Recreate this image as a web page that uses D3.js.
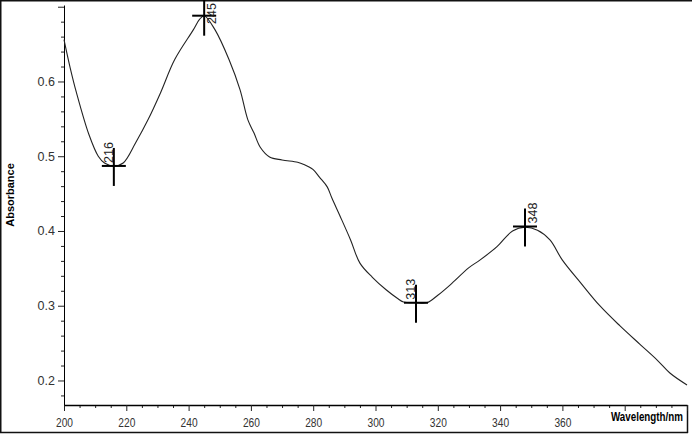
<!DOCTYPE html>
<html>
<head>
<meta charset="utf-8">
<script src="https://cdn.jsdelivr.net/npm/d3@7"></script>
<style>
  body { margin: 0; background: #fff; }
  svg { display: block; }
  .tick text { font-family: "Liberation Sans", Arial, sans-serif; font-size: 12.5px; fill: #333; }
</style>
</head>
<body>
<svg id="chart" width="692" height="436"></svg>
<script>
// spectrum: wavelength (nm) and absorbance
let wavelength = [200, 202, 204, 208, 211, 213, 216, 219, 223, 227, 231, 235.5, 241.5, 243.5, 245,
    248.5, 253, 256.5, 259, 261, 263, 266, 270, 275, 277, 280, 282, 284.5, 286, 288.5, 292, 295,
    299, 303.5, 307, 309, 313, 316.5, 320, 324, 330, 333.5, 339, 344, 348, 352, 356, 360, 366,
    372, 378.5, 385, 390.5, 394.5, 400];
let absorbance = [0.656, 0.618, 0.585, 0.529, 0.500, 0.491, 0.487, 0.491, 0.518, 0.549, 0.585, 0.629, 0.669, 0.683, 0.688,
    0.669, 0.629, 0.589, 0.549, 0.531, 0.512, 0.499, 0.495, 0.492, 0.489, 0.482, 0.472, 0.459, 0.444, 0.421, 0.388, 0.357,
    0.338, 0.321, 0.310, 0.305, 0.304, 0.304, 0.314, 0.328, 0.351, 0.361, 0.379, 0.400, 0.405, 0.401, 0.388, 0.361, 0.330,
    0.300, 0.273, 0.248, 0.227, 0.210, 0.194];

// picked peaks / valleys
let peakNm = [216, 245, 313, 348];
let peakAbs = [0.487, 0.688, 0.304, 0.406];
let peakKind = ['min', 'max', 'min', 'max'];

// axis ticks
let xMajor = [200, 220, 240, 260, 280, 300, 320, 340, 360, 380, 400];
let xLabels = ['200', '220', '240', '260', '280', '300', '320', '340', '360', '', ''];
let yMajor = [0.2, 0.3, 0.4, 0.5, 0.6, 0.7];
let yLabels = ['0.2', '0.3', '0.4', '0.5', '0.6', ''];

let svg = d3.select('#chart');

let xLeft = 64, xRight = 687, yTop = 5, yBottom = 405;

let xScale = d3.scaleLinear().domain([200, 400]).range([xLeft, xRight]);
let yScale = d3.scaleLinear().domain([0.1672, 0.7023]).range([yBottom, yTop]);

// outer frame of the picture
svg.append('line').attr('x1', 0).attr('x2', 692).attr('y1', 0.75).attr('y2', 0.75)
    .attr('stroke', '#111').attr('stroke-width', 1.5);
svg.append('line').attr('x1', 0.75).attr('x2', 0.75).attr('y1', 0).attr('y2', 433)
    .attr('stroke', '#111').attr('stroke-width', 1.5);
svg.append('line').attr('x1', 0).attr('x2', 688).attr('y1', 432.5).attr('y2', 432.5)
    .attr('stroke', '#111').attr('stroke-width', 1.5);
svg.append('line').attr('x1', 687.5).attr('x2', 687.5).attr('y1', yBottom).attr('y2', 433)
    .attr('stroke', '#111').attr('stroke-width', 1.5);

// minor ticks every 5 nm / 0.02
let xMinor = d3.range(200, 401, 5).filter(function (d) { return d % 20 != 0; });
let yMinor = d3.range(0.18, 0.70, 0.02).filter(function (d) {
    return Math.abs(d * 10 - Math.round(d * 10)) > 0.01;
});

let xAxisMinor = svg.append('g').attr('transform', 'translate(0,' + yBottom + ')')
    .call(d3.axisBottom(xScale).tickValues(xMinor).tickSize(3).tickFormat(''));
xAxisMinor.select('.domain').remove();

let xAxis = svg.append('g').attr('transform', 'translate(0,' + yBottom + ')')
    .call(d3.axisBottom(xScale).tickValues(xMajor).tickSize(6).tickSizeOuter(0)
        .tickFormat(function (d, i) { return xLabels[i]; }));
xAxis.select('.domain').attr('stroke-width', 1.5);
// the labels are set in a narrow face in the original
xAxis.selectAll('text')
    .attr('dy', '1em')
    .filter(function (d, i) { return xLabels[i] != ''; })
    .attr('textLength', 17)
    .attr('lengthAdjust', 'spacingAndGlyphs');

let yAxisMinor = svg.append('g').attr('transform', 'translate(' + xLeft + ',0)')
    .call(d3.axisLeft(yScale).tickValues(yMinor).tickSize(3).tickFormat(''));
yAxisMinor.select('.domain').remove();

let yAxis = svg.append('g').attr('transform', 'translate(' + xLeft + ',0)')
    .call(d3.axisLeft(yScale).tickValues(yMajor).tickSize(6).tickSizeOuter(0)
        .tickFormat(function (d, i) { return yLabels[i]; }));
yAxis.selectAll('text').attr('x', -9);

svg.selectAll('.tick line').attr('stroke', '#222');

// axis titles
svg.append('text')
    .attr('transform', 'translate(14,195) rotate(-90)')
    .attr('text-anchor', 'middle')
    .style('font-family', '"Liberation Sans", Arial, sans-serif')
    .style('font-weight', 'bold')
    .style('font-size', '11px')
    .text('Absorbance');

// condensed title: squeeze it horizontally to fit the corner
let xTitle = svg.append('text')
    .style('font-family', '"Liberation Sans", sans-serif')
    .style('font-weight', 'bold')
    .style('font-size', '12px')
    .text('Wavelength/nm');
let titleLen = xTitle.node().getComputedTextLength();
xTitle.attr('transform', 'translate(611,421) scale(' + (72 / titleLen) + ',1)');

// spectrum line
let spectrum = wavelength.map(function (d, i) { return [d, absorbance[i]]; });
let line = d3.line()
    .x(function (d) { return xScale(d[0]); })
    .y(function (d) { return yScale(d[1]); })
    .curve(d3.curveCatmullRom);

svg.append('path')
    .datum(spectrum)
    .attr('d', line)
    .attr('fill', 'none')
    .attr('stroke', '#222')
    .attr('stroke-width', 1.1);

// peak markers: cross plus rotated wavelength label
let marks = svg.append('g').selectAll('g')
    .data(peakNm)
    .enter().append('g');

marks.append('line')
    .attr('x1', function (d) { return xScale(d); })
    .attr('x2', function (d) { return xScale(d); })
    .attr('y1', function (d, i) { return yScale(peakAbs[i]) - 18; })
    .attr('y2', function (d, i) { return yScale(peakAbs[i]) + 20; })
    .attr('stroke', '#000').attr('stroke-width', 2);

marks.append('line')
    .attr('x1', function (d) { return xScale(d) - 12; })
    .attr('x2', function (d) { return xScale(d) + 12; })
    .attr('y1', function (d, i) { return yScale(peakAbs[i]); })
    .attr('y2', function (d, i) { return yScale(peakAbs[i]); })
    .attr('stroke', '#000').attr('stroke-width', 2);

marks.append('text')
    .attr('transform', function (d, i) {
        let cx = xScale(d), cy = yScale(peakAbs[i]);
        let tx = peakKind[i] == 'max' ? cx + 12 : cx - 1;
        // keep the label inside the top edge
        let ty = Math.max(cy - 3, 24);
        return 'translate(' + tx + ',' + ty + ') rotate(-90)';
    })
    .style('font-family', '"Liberation Sans", Arial, sans-serif')
    .style('font-size', '12.5px')
    .style('fill', '#222')
    .text(function (d) { return d; });
</script>
</body>
</html>
